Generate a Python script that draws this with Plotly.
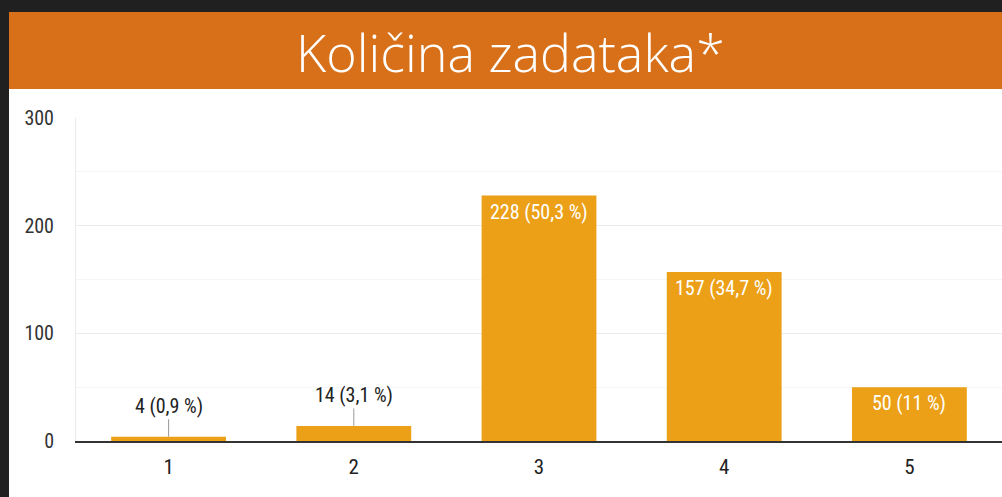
import plotly.graph_objects as go

categories = ["1", "2", "3", "4", "5"]
counts = [4, 14, 228, 157, 50]
percent_labels = ["0,9 %", "3,1 %", "50,3 %", "34,7 %", "11 %"]
y_ticks = [0, 100, 200, 300]
title_text = "Količina zadataka*"

W, H = 1002, 497
BAR = "#EBA017"
BAND = "#D8701A"
DARK = "#202020"
FONT = "Liberation Sans Narrow, Arial Narrow, Roboto Condensed, Arial, sans-serif"

fig = go.Figure()
fig.add_trace(go.Bar(
    x=list(range(len(categories))), y=counts, marker=dict(color=BAR, line=dict(width=0)),
    width=0.62, hoverinfo="skip",
))

# value labels
for i, (v, p) in enumerate(zip(counts, percent_labels)):
    txt = f"{v} ({p})"
    if v >= 40:
        fig.add_annotation(x=i, y=v, text=txt, showarrow=False, yanchor="top", yshift=-2,
                           font=dict(family=FONT, size=20, color="white"))
    else:
        fig.add_annotation(x=i, y=v, text=txt, showarrow=True, arrowhead=0, arrowwidth=1,
                           arrowcolor="#999999", ax=0, ay=-31, standoff=0, startstandoff=0,
                           font=dict(family=FONT, size=20, color="#222222"))

x_left = 76 / W
y_bot = (H - 441) / H
y_top = (H - 118) / H

# background panels
fig.add_shape(type="rect", xref="paper", yref="paper", x0=9 / W, x1=1, y0=0, y1=(H - 89) / H,
              fillcolor="white", line=dict(width=0), layer="below")
fig.add_shape(type="rect", xref="paper", yref="paper", x0=9 / W, x1=1, y0=(H - 89) / H, y1=(H - 12) / H,
              fillcolor=BAND, line=dict(width=0), layer="below")
fig.add_annotation(xref="paper", yref="paper", x=510 / W, y=(H - 51) / H, text=title_text,
                   showarrow=False, xanchor="center", yanchor="middle",
                   font=dict(family="Open Sans, Lato, sans-serif", size=52, weight=300, color="white"))

fig.update_layout(
    width=W, height=H, margin=dict(l=0, r=0, t=0, b=0),
    paper_bgcolor=DARK, plot_bgcolor="white", showlegend=False,
    xaxis=dict(domain=[x_left, 1], range=[-0.5, 4.5], tickvals=list(range(len(categories))),
               ticktext=categories, showgrid=False, automargin=False,
               showline=True, linecolor="#333333", linewidth=2, ticks="",
               tickfont=dict(family=FONT, size=21, color="#222222"), ticklabelstandoff=6,
               zeroline=False),
    yaxis=dict(domain=[y_bot, y_top], range=[0, 300], tickvals=y_ticks, automargin=False,
               showgrid=True, gridcolor="#EBEBEB", gridwidth=1,
               minor=dict(dtick=50, showgrid=True, gridcolor="#F5F5F5", gridwidth=1),
               showline=True, linecolor="#EBEBEB", linewidth=1, zeroline=False,
               tickfont=dict(family=FONT, size=20, color="#333333"), ticklabelstandoff=17),
)

fig.write_html("out.html")
